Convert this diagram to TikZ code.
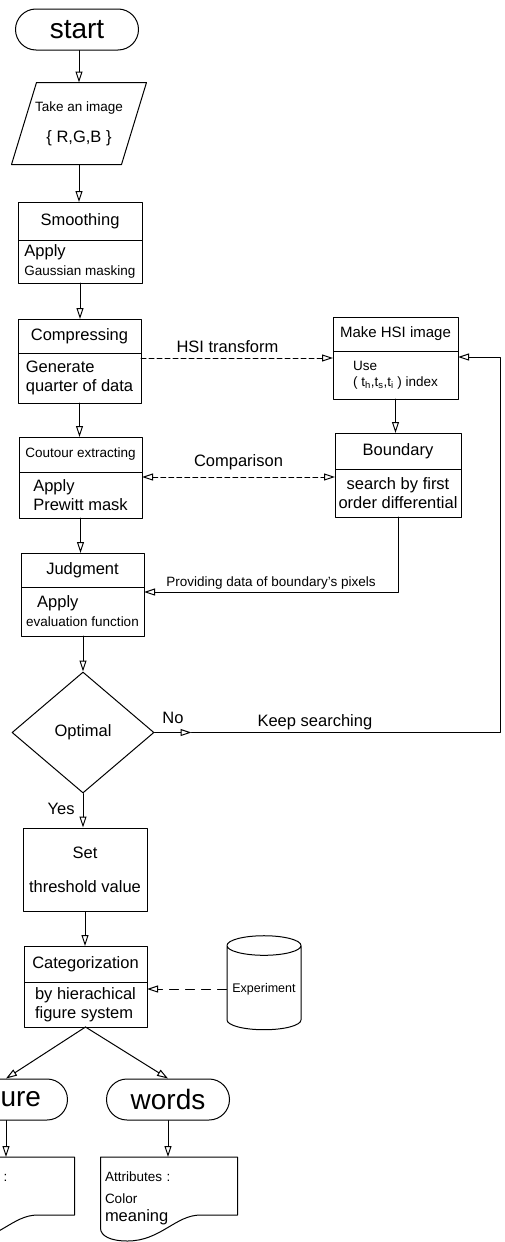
\documentclass[tikz,border=0pt]{standalone}
\usepackage{fontspec}
\setmainfont{Liberation Sans}
\usetikzlibrary{positioning,shapes.geometric,shapes.misc,arrows.meta}
\newcommand{\fbig}{\fontsize{28}{32}\selectfont}
\newcommand{\fmd}{\fontsize{16.5}{19}\selectfont}
\newcommand{\fsm}{\fontsize{13.5}{16}\selectfont}
\newcommand{\fxs}{\fontsize{12.5}{14}\selectfont}
\begin{document}
\begin{tikzpicture}[line cap=round,line join=round,x=1pt,y=-1pt,line width=1pt,
  >={Triangle[open,length=11pt,width=7pt]},
  pill/.style={rounded rectangle,draw,minimum width=123pt,minimum height=41pt,inner sep=0pt,font=\fbig},
  head/.style 2 args={draw,outer sep=0pt,inner sep=1pt,minimum width=#1,minimum height=#2,font=\fmd},
  body/.style 2 args={draw,outer sep=0pt,inner xsep=2pt,inner ysep=1pt,minimum width=#1,minimum height=#2,align=left,font=\fmd},
  doc/.style={anchor=north,text width=128pt,inner xsep=4pt,inner ysep=14pt,align=left,font=\fsm},
  lbl/.style={font=\fmd,inner sep=2pt},
  dashline/.style={dash pattern=on 5pt off 3pt}]
\useasboundingbox (0,0) rectangle (505,1242);
\clip (0,0) rectangle (505,1242);
\node[pill] (sta) at (77,29.5) {start};
\node[minimum width=109pt,minimum height=81pt,align=center,font=\fsm] (inp) at (79,123.5) {Take an image\\[15pt]{\fmd\{ R,G,B \}}};
\draw ([xshift=12.5pt]inp.north west) -- ([xshift=12.5pt]inp.north east) -- ([xshift=-12.5pt]inp.south east) -- ([xshift=-12.5pt]inp.south west) -- cycle;
\node[head={124pt}{38pt}] (smh) at (80,221) {Smoothing};
\node[body={124pt}{43pt},below=0pt of smh] (smb) {Apply\\{\fsm Gaussian masking}};
\node[head={123pt}{34pt}] (cph) at (79.5,336) {Compressing};
\node[body={123pt}{50pt},below=0pt of cph] (cpb) {Generate\\quarter of data};
\node[head={123pt}{35pt},font=\fsm] (cth) at (80.5,454.5) {Coutour extracting};
\node[body={123pt}{46pt},below=0pt of cth] (ctb) {Apply\\Prewitt mask};
\node[head={125pt}{34pt},font=\fontsize{15}{18}\selectfont] (hsih) at (395.5,334) {Make HSI image};
\node[body={125pt}{48pt},below=0pt of hsih,font=\fsm] (hsib) {Use\\( t\textsubscript{h},t\textsubscript{s},t\textsubscript{i} ) index};
\node[head={126pt}{36pt}] (bdh) at (398,451) {Boundary};
\node[body={126pt}{48pt},below=0pt of bdh,align=center] (bdb) {search by first\\order differential};
\node[head={123pt}{34pt}] (jdh) at (82.5,570) {Judgment};
\node[body={123pt}{49pt},below=0pt of jdh] (jdb) {\hspace*{11pt}Apply\\{\fsm evaluation function}};
\node[diamond,draw,minimum width=142pt,minimum height=121pt,inner sep=0pt,font=\fmd] (opt) at (83,732.5) {Optimal};
\node[draw,minimum width=124pt,minimum height=83pt,align=center,font=\fmd] (set) at (85,869.5) {Set\\[15pt]threshold value};
\node[head={123pt}{36pt}] (cah) at (85.5,964) {Categorization};
\node[body={123pt}{45pt},below=0pt of cah] (cab) {by hierachical\\figure system};
\node[cylinder,shape border rotate=90,draw,minimum width=74pt,minimum height=94pt,aspect=0.3,inner sep=1pt,font=\fxs] (exp) at (264,989) {Experiment};
\node[pill] (fig) at (6,1099.5) {figure};
\node[pill] (wrd) at (168,1099.5) {words};
\node[doc] (fdoc) at (6,1157) {Attributes :};
\node[doc] (wdoc) at (169,1157) {Attributes :\\[6pt]Color\\[2pt]{\fmd meaning}};
\foreach \d in {fdoc,wdoc}
  \draw (\d.north west) -- (\d.north east) -- ([yshift=-58pt]\d.north east) -- ([xshift=-37pt,yshift=-58pt]\d.north east)
    .. controls ([xshift=-62pt,yshift=-58pt]\d.north east) and ([xshift=-77pt,yshift=-84pt]\d.north east) .. ([xshift=-110pt,yshift=-84pt]\d.north east)
    .. controls ([xshift=-127pt,yshift=-84pt]\d.north east) and ([yshift=-79pt]\d.north west) .. ([yshift=-71pt]\d.north west) -- cycle;
\coordinate (nomk) at ([xshift=37pt]opt.east);
\coordinate (turn) at (500,732.5);
\draw[->] (inp.north |- sta.south) -- (inp.north);
\draw[->] (inp.south) -- (inp.south |- smh.north);
\draw[->] (smb.south) -- (smb.south |- cph.north);
\draw[->] (cpb.south) -- (cpb.south |- cth.north);
\draw[->] (ctb.south) -- (ctb.south |- jdh.north);
\draw[->] (opt.north |- jdb.south) -- (opt.north);
\draw[->] (opt.south) -- (opt.south |- set.north) node[pos=0.45,left=6pt,lbl] {Yes};
\draw[->] (set.south) -- (set.south |- cah.north);
\draw[->] (cab.south) -- (fig.north);
\draw[->] (cab.south) -- (wrd.north);
\draw[->] (fig.south) -- (fig.south |- fdoc.north);
\draw[->] (wrd.south) -- (wrd.south |- wdoc.north);
\draw[->,dashline] ([yshift=-5pt]cpb.north east) -- ([yshift=-5pt]cpb.north east -| hsib.west) node[pos=0.45,above=3pt,lbl] {HSI transform};
\draw[<->,dashline] ([yshift=-5pt]ctb.north east) -- ([yshift=-5pt]ctb.north east -| bdb.west) node[midway,above=5pt,lbl] {Comparison};
\draw[->] (hsib.south) -- (hsib.south |- bdh.north);
\draw[->] (bdb.south) |- ([yshift=-5pt]jdb.north east) node[pos=0.75,above,lbl,font=\fsm] {Providing data of boundary's pixels};
\draw[->] (opt.east) -- (nomk) node[midway,above=6pt,lbl] {No};
\draw[->] (nomk) -- node[pos=0.4,above,lbl] {Keep searching} (turn) |- ([yshift=-6pt]hsib.north east);
\draw[->,dash pattern=on 9pt off 7pt] (exp.west) -- (exp.west -| cab.east);
\end{tikzpicture}
\end{document}
